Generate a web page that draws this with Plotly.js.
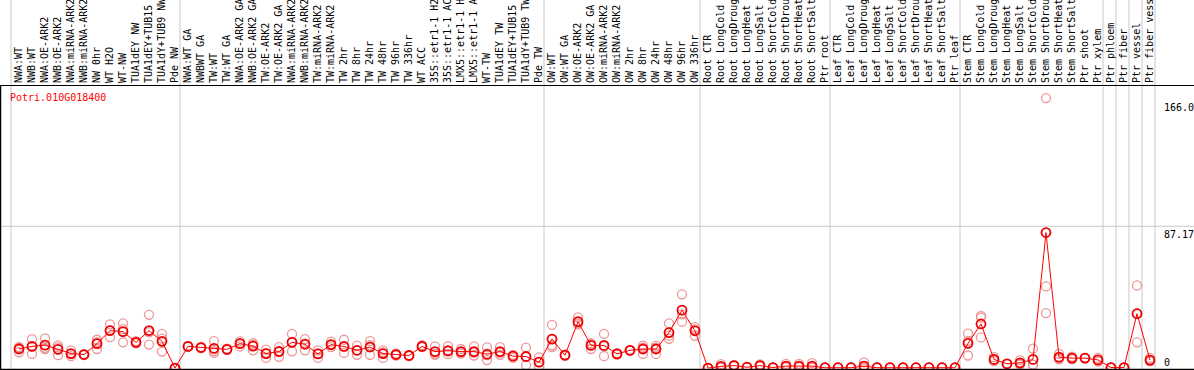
<!DOCTYPE html>
<html>
<head>
<meta charset="utf-8">
<script src="https://cdn.plot.ly/plotly-3.0.1.min.js"></script>
<style>html,body{margin:0;padding:0;background:#fff;}#chart{width:1194px;height:370px;}</style>
</head>
<body>
<div id="chart"></div>
<script>
const geneTitle = "Potri.010G018400";
const labels = [
"NWA:WT","NWB:WT","NWA:OE-ARK2","NWB:OE-ARK2","NWA:miRNA-ARK2","NWB:miRNA-ARK2","NW 0hr","WT H2O","WT-NW","TUA1dEY NW","TUA1dEY+TUB15","TUA1dY+TUB9 NW","Pde NW",
"NWA:WT GA","NWBWT GA","TW:WT","TW:WT GA","NWA:OE-ARK2 GA","NWB:OE-ARK2 GA","TW:OE-ARK2","TW:OE-ARK2 GA","NWA:miRNA-ARK2","NWB:miRNA-ARK2","TW:miRNA-ARK2","TW:miRNA-ARK2","TW 2hr","TW 8hr","TW 24hr","TW 48hr","TW 96hr","TW 336hr","WT ACC","35S::etr1-1 H2","35S::etr1-1 AC","LMX5::etr1-1 H","LMX5::etr1-1 A","WT-TW","TUA1dEY TW","TUA1dEY+TUB15","TUA1dY+TUB9 TW","Pde TW",
"OW:WT","OW:WT GA","OW:OE-ARK2","OW:OE-ARK2 GA","OW:miRNA-ARK2","OW:miRNA-ARK2","OW 2hr","OW 8hr","OW 24hr","OW 48hr","OW 96hr","OW 336hr",
"Root CTR","Root LongCold","Root LongDroug","Root LongHeat","Root LongSalt","Root ShortCold","Root ShortDrou","Root ShortHeat","Root ShortSalt","Ptr root",
"Leaf CTR","Leaf LongCold","Leaf LongDroug","Leaf LongHeat","Leaf LongSalt","Leaf ShortCold","Leaf ShortDrou","Leaf ShortHeat","Leaf ShortSalt","Ptr leaf",
"Stem CTR","Stem LongCold","Stem LongDroug","Stem LongHeat","Stem LongSalt","Stem ShortCold","Stem ShortDrou","Stem ShortHeat","Stem ShortSalt","Ptr shoot","Ptr xylem",
"Ptr phloem","Ptr fiber","Ptr vessel","Ptr fiber vess"
];
const meanValues = [
11.7,13.3,14.1,11.5,8.9,8.3,15.0,23.0,22.4,15.8,23.0,16.4,0,
13.3,12.6,12.1,11.5,15.0,13.5,8.9,10.1,15.8,14.6,8.7,14.4,13.3,10.9,12.9,8.9,8.3,7.7,13.3,10.1,10.7,10.1,10.1,8.5,10.1,7.3,7.1,3.6,
17.8,7.9,28.5,13.9,13.9,8.7,10.9,11.7,11.7,21.8,35.6,22.9,
0,1.0,1.5,0.5,1.5,0.3,1.2,1.2,1.2,0.2,
0.2,0.2,1.2,0.2,0.2,0.2,0.2,0.2,0.2,0.2,
15.2,27.1,5.3,2.6,3.2,5.3,83.3,6.7,6.1,6.1,5.0,
0.3,0.3,33.4,4.9
];
const rep1 = [
12.9,17.8,18.2,13.9,10.9,8.6,17.4,26.9,27.5,16.6,32.7,21.0,0,
13.6,13.0,16.6,11.9,16.4,15.3,11.3,12.9,21.0,17.8,10.9,16.2,17.4,13.8,16.6,10.9,9.0,7.9,14.0,13.3,13.5,11.7,13.3,12.7,12.9,8.1,12.6,6.5,
26.5,8.2,31.1,15.3,21.0,9.2,11.2,13.8,13.8,27.5,45.3,23.8,
0,2.4,2.0,0.5,2.2,0.3,2.6,2.6,3.0,0.2,
0.2,0.2,3.5,0.2,0.2,0.2,0.2,0.2,0.2,0.2,
21.2,32.0,6.7,2.6,4.9,11.9,166.0,8.7,7.0,6.1,6.2,
0.3,0.3,50.8,6.2
];
const rep2 = [
9.7,8.7,11.7,7.9,7.3,8.0,11.7,19.0,15.8,15.2,14.4,10.1,0,
13.0,12.2,9.3,11.2,13.3,10.9,6.2,6.9,10.3,10.9,6.2,12.9,9.3,8.1,8.1,6.2,7.6,7.4,12.8,8.1,8.5,8.9,7.7,4.9,8.1,6.2,1.8,3.6,
12.9,7.5,27.5,11.7,7.3,8.3,10.6,8.7,8.7,18.0,28.5,19.8,
0,0.3,1.2,0.5,1.0,0.3,0.5,0.5,0.3,0.2,
0.2,0.2,0.0,0.2,0.2,0.2,0.2,0.2,0.2,0.2,
7.7,18.8,4.2,2.6,2.3,2.0,33.8,5.4,5.5,6.1,4.0,
0.3,0.3,15.8,4.2
];
const rep3 = [
12.5,13.4,12.4,12.7,8.5,8.3,15.9,23.1,23.9,15.6,21.9,18.1,0,
13.3,12.6,10.4,11.4,15.3,14.3,9.2,10.5,16.1,15.1,9.0,14.1,13.2,10.8,14.0,9.6,8.3,7.8,13.1,8.9,10.1,9.7,9.3,7.9,9.3,7.6,6.9,0.7,
14.0,8.0,26.9,14.7,13.4,8.6,10.9,12.6,12.6,19.9,33.0,25.1,
0,0.3,1.3,0.5,1.3,0.3,0.5,0.5,0.3,0.2,
0.2,0.2,0.1,0.2,0.2,0.2,0.2,0.2,0.2,0.2,
16.7,31.0,5.0,2.6,2.4,2.0,50.2,6.0,5.8,6.1,4.8,
0.3,0.3,33.6,4.3
];
// group separators: after these category counts
const groupBreaks = [0,13,41,53,63,73,84,85,86,87,88];
const refLine = 87.17;
const maxLabel = "166.0";
const refLabel = "87.17";
const zeroLabel = "0";

const W = 1194, H = 370;
const xs = labels.map((_, i) => i + 1);
const py = p => (H - p) / H;     // pixel-from-top -> paper y
const px = p => p / W;           // pixel-from-left -> paper x

const repColor = "rgba(236,140,140,0.9)";
const repTrace = (vals) => ({
  x: xs, y: vals, type: "scatter", mode: "markers", hoverinfo: "skip",
  marker: {symbol: "circle-open", size: 9, color: repColor, line: {width: 1.3, color: repColor}},
  showlegend: false
});
const traces = [
  repTrace(rep1), repTrace(rep2), repTrace(rep3),
  {x: xs, y: meanValues, type: "scatter", mode: "lines+markers", showlegend: false,
   line: {color: "#ff0000", width: 1},
   marker: {symbol: "circle-open", size: 9, color: "#ee0000", line: {width: 1.8, color: "#ee0000"}}}
];

const shapes = [];
groupBreaks.forEach(b => {
  shapes.push({type: "line", xref: "x", yref: "paper", x0: b + 0.385, x1: b + 0.385, y0: 0, y1: 1,
    line: {color: "#c8c8c8", width: 1}, layer: "below"});
});
shapes.push({type: "line", xref: "paper", yref: "y", x0: 0, x1: 1, y0: refLine, y1: refLine,
  line: {color: "#c8c8c8", width: 1}, layer: "below"});
shapes.push({type: "line", xref: "paper", yref: "paper", x0: 0, x1: 1, y0: py(85.5), y1: py(85.5),
  line: {color: "#000", width: 1}});
shapes.push({type: "line", xref: "paper", yref: "paper", x0: 0, x1: 1, y0: py(369.5), y1: py(369.5),
  line: {color: "#000", width: 1.5}});
shapes.push({type: "line", xref: "paper", yref: "paper", x0: px(0.5), x1: px(0.5), y0: py(85.5), y1: 0,
  line: {color: "#000", width: 1.5}});

const mono = "DejaVu Sans Mono, monospace";
const annotations = [
  {text: geneTitle, xref: "paper", yref: "paper", x: px(8), y: py(97), xanchor: "left", yanchor: "middle",
   showarrow: false, font: {family: mono, size: 10, color: "#ff0000"}},
  {text: maxLabel, xref: "paper", yref: "paper", x: px(1162), y: py(107), xanchor: "left", yanchor: "middle",
   showarrow: false, font: {family: mono, size: 10, color: "#000"}},
  {text: refLabel, xref: "paper", yref: "paper", x: px(1162), y: py(234), xanchor: "left", yanchor: "middle",
   showarrow: false, font: {family: mono, size: 10, color: "#000"}},
  {text: zeroLabel, xref: "paper", yref: "paper", x: px(1162), y: py(362), xanchor: "left", yanchor: "middle",
   showarrow: false, font: {family: mono, size: 10, color: "#000"}}
];

const layout = {
  width: W, height: H, autosize: false,
  margin: {l: 0, r: 0, t: 0, b: 0, pad: 0},
  paper_bgcolor: "#fff", plot_bgcolor: "rgba(0,0,0,0)",
  showlegend: false,
  xaxis: {range: [-6/13, (W - 6)/13], domain: [0, 1], side: "top", tickangle: -90,
    tickmode: "array", tickvals: xs, ticktext: labels, ticks: "", showgrid: false, zeroline: false,
    showline: false, ticklabelstandoff: 2,
    tickfont: {family: mono, size: 10, color: "#000"}, fixedrange: true, automargin: false},
  yaxis: {domain: [0, 284/370], range: [-1.21, 173.4], showgrid: false, zeroline: false,
    showticklabels: false, showline: false, ticks: "", fixedrange: true, automargin: false},
  shapes: shapes,
  annotations: annotations
};
Plotly.newPlot("chart", traces, layout, {staticPlot: true, displayModeBar: false});
</script>
</body>
</html>
